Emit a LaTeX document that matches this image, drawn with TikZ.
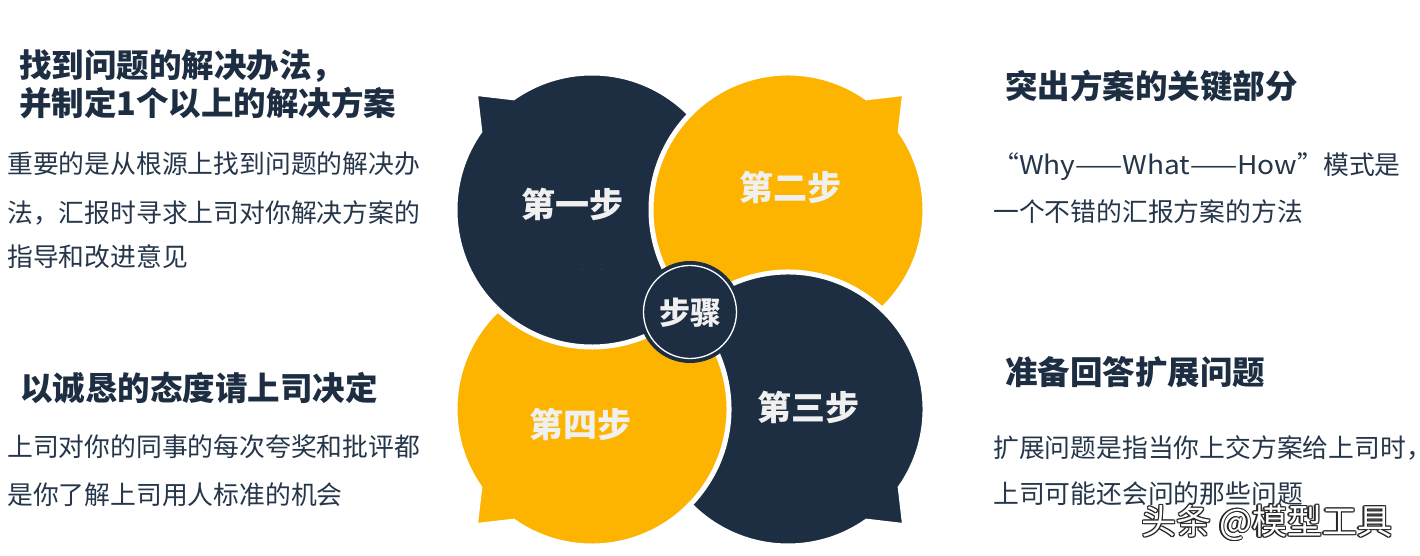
\documentclass[tikz,border=0pt]{standalone}
\usepackage{fontspec}
\setmainfont{Noto Sans CJK SC}
\usetikzlibrary{calc}
\definecolor{navy}{HTML}{1D2D42}
\definecolor{amber}{HTML}{FDB400}
\definecolor{bodytext}{HTML}{26364A}
\definecolor{labeltext}{HTML}{F0F0F0}
\newcommand\bubblepath[1]{(#1-10:137) -- (#1:165) -- (#1+10:137) arc[start angle=#1+10, end angle=#1+350, radius=137] -- cycle}
\begin{document}
\begin{tikzpicture}[x=1pt,y=1pt,
  bubble/.style={draw=white, line width=5pt, line join=miter},
  title/.style={anchor=base west, inner sep=0pt, text=navy, font=\fontsize{32.5}{32.5}\selectfont\bfseries},
  body/.style={anchor=base west, inner sep=0pt, text=bodytext, font=\fontsize{25.8}{25.8}\selectfont},
  steplabel/.style={anchor=base, inner sep=0pt, text=labeltext, font=\fontsize{34}{34}\selectfont\bfseries},
  wm/.style={anchor=base west, inner sep=0pt, font=\fontsize{35}{35}\selectfont}
]
\useasboundingbox (0,0) rectangle (1420,556);
\fill[white] (0,0) rectangle (1420,556);

% bubbles (pinwheel overlap)
\filldraw[bubble, fill=navy, shift={(592,346)}] \bubblepath{135};
\filldraw[bubble, fill=amber, shift={(788,346)}] \bubblepath{45};
\filldraw[bubble, fill=navy, shift={(788,147)}] \bubblepath{-45};
\filldraw[bubble, fill=amber, shift={(592,147)}] \bubblepath{225};
\begin{scope}
  \clip (592,147) circle (140);
  \filldraw[bubble, fill=navy, shift={(592,346)}] \bubblepath{135};
\end{scope}

% centre
\node[circle, fill=navy, minimum size=102pt, inner sep=0pt] (hub) at (690,244) {};
\draw[white, line width=1.3pt] (hub.center) circle (46.5);
\node[steplabel, font=\fontsize{31}{31}\selectfont\bfseries] (hublabel) at (690,231.2) {步骤};

% step labels
\node[steplabel] (s1) at (572,338) {第一步};
\node[steplabel] (s2) at (790,355.1) {第二步};
\node[steplabel] (s3) at (808,135.1) {第三步};
\node[steplabel] (s4) at (580,118.1) {第四步};

% left top
\node[title] (t1a) at (19,478.6) {找到问题的解决办法，};
\node[title] (t1b) at (19,440.1) {并制定1个以上的解决方案};
\node[body] (b1a) at (7,382.3) {重要的是从根源上找到问题的解决办};
\node[body] (b1b) at (7,333.3) {法，汇报时寻求上司对你解决方案的};
\node[body] (b1c) at (7,289.3) {指导和改进意见};

% left bottom
\node[title] (t4) at (20,155.6) {以诚恳的态度请上司决定};
\node[body] (b4a) at (7,99.3) {上司对你的同事的每次夸奖和批评都};
\node[body] (b4b) at (7,51.3) {是你了解上司用人标准的机会};

% right top
\node[title] (t2) at (1005,457.6) {突出方案的关键部分};
\node[body] (b2a) at (993,381.3) {“\scalebox{1.09}[1]{Why——What——How}”模式是};
\node[body] (b2b) at (993,334.3) {一个不错的汇报方案的方法};

% right bottom
\node[title] (t3) at (1005,171.6) {准备回答扩展问题};
\node[body] (b3a) at (993,98.3) {扩展问题是指当你上交方案给上司时，};
\node[body] (b3b) at (993,52.3) {上司可能还会问的那些问题};

% watermark
\foreach \dx/\dy [count=\i] in {-1.2/0,1.2/0,0/-1.2,0/1.2,-0.9/-0.9,0.9/0.9,-0.9/0.9,0.9/-0.9}
  \node[wm, text=black!85] (wmshadow\i) at (1141+\dx,21.7+\dy) {头条 @模型工具};
\node[wm, text=white] (wmtext) at (1141,21.7) {头条 @模型工具};
\end{tikzpicture}
\end{document}
